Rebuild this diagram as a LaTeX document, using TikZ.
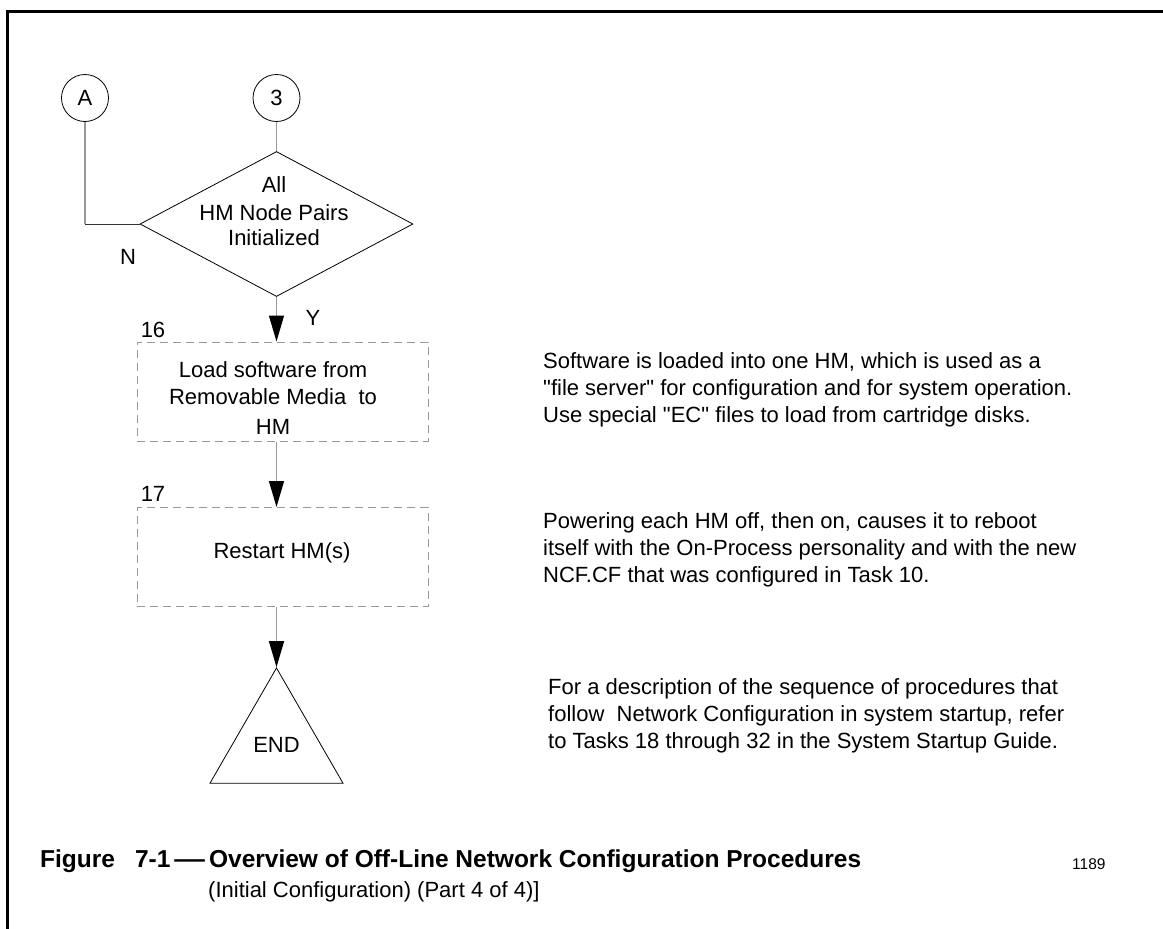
\documentclass[tikz,border=0pt]{standalone}
\usepackage{fontspec}
\usepackage{graphicx}
\setmainfont{Liberation Sans}
\usetikzlibrary{shapes.geometric,arrows.meta}
\newcommand{\dq}{\XeTeXglyph\XeTeXcharglyph34\relax}
\begin{document}
\begin{tikzpicture}[x=1pt,y=-1pt,
  conn/.style={draw=black!40, line width=1.3pt},
  arr/.style={conn, -{Triangle[length=26pt,width=15pt,color=black]}},
  thinline/.style={draw=black!80, line width=0.9pt},
  connector/.style={circle, draw, line width=0.8pt, minimum size=47pt, inner sep=0pt, font=\fontsize{22}{26}\selectfont},
  procbox/.style={draw=black!40, dash pattern=on 8pt off 5pt, line width=1pt, minimum width=291pt, minimum height=99pt, inner sep=0pt},
  txt/.style={inner sep=0pt, font=\fontsize{22}{27}\selectfont},
  para/.style={inner sep=0pt, align=left, anchor=west, font=\fontsize{22}{27}\selectfont},
]
\useasboundingbox (0,0) rectangle (1163,929);
% frame
\coordinate (FTR) at (1163,11.5);
\coordinate (FTL) at (7.5,11.5);
\coordinate (FBL) at (7.5,929);
\draw[line width=3pt] (FTR) -- (FTL) -- (FBL);

% connectors
\node[connector] (A) at (85,98) {A};
\node[connector] (C3) at (276.5,98) {3};

% decision
\node[diamond, draw, line width=0.8pt, minimum width=273pt, minimum height=145pt, inner sep=0pt] (D) at (276.5,224) {};
\node[txt, align=center] (Dt) at (274,211) {All\\[0.5pt]HM Node Pairs\\[-2pt]Initialized};

\coordinate (NC) at (A.south |- D.west);
\draw[conn] (A.south) -- (NC);
\draw[thinline] (NC) -- (D.west);
\draw[conn] (C3.south) -- (D.north);

\node[txt] (N) at (128,257) {N};
\node[txt] (Y) at (313,318) {Y};

% box 16
\node[procbox] (B16) at (282.5,391.5) {};
\node[txt, align=center] (B16t) at (273,398) {Load software from\\Removable Media\ \ to\\[3pt]HM};
\node[txt] (L16) at (153,330) {16};

% box 17
\node[procbox] (B17) at (282.5,557) {};
\node[txt] (B17t) at (282,553) {Restart HM(s)};
\node[txt] (L17) at (153,494) {17};

% end
\node[regular polygon, regular polygon sides=3, draw, line width=0.8pt, minimum size=153.6pt, inner sep=0pt, font=\fontsize{22}{26}\selectfont] (T) at (276.5,744.8) {END};

% arrows
\draw[arr] (D.south) -- (D.south |- B16.north);
\draw[arr] (B16.south -| D.south) -- (B17.north -| D.south);
\draw[arr] (B17.south -| T.north) -- (T.north);

% notes
\node[para] (P1) at (543,390) {Software is loaded into one HM, which is used as a\\\dq file server\dq\ for configuration and for system operation.\\Use special \dq EC\dq\ files to load from cartridge disks.};
\node[para] (P2) at (543,550) {Powering each HM off, then on, causes it to reboot\\itself with the On-Process personality and with the new\\NCF.CF that was configured in Task 10.};
\node[para] (P3) at (548,716) {For a description of the sequence of procedures that\\follow\ \ Network Configuration in system startup, refer\\to Tasks 18 through 32 in the System Startup Guide.};

% caption
\node[inner sep=0pt, anchor=base west, font=\fontsize{24.5}{28}\selectfont\bfseries] (Cap1) at (40,867) {Figure\hspace{20pt}7-1\hspace{4pt}\scalebox{1.25}[1]{—}\hspace{4pt}Overview of Off-Line Network Configuration Procedures};
\node[inner sep=0pt, anchor=base west, font=\fontsize{22}{27}\selectfont] (Cap2) at (208,897) {(Initial Configuration) (Part 4 of 4)]};
\node[inner sep=0pt, anchor=base west, font=\fontsize{15.5}{18}\selectfont] (Num) at (1072,869) {1189};
\end{tikzpicture}
\end{document}
